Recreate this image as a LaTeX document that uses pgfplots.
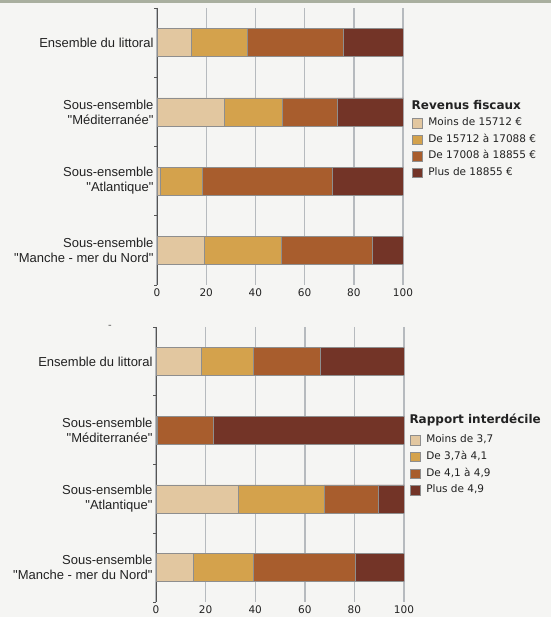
\documentclass[border=0pt]{standalone}
\usepackage{fontspec}
\setmainfont{DejaVu Sans}
\newfontfamily\labfont{Liberation Sans}
\usepackage{pgfplots}
\pgfplotsset{compat=1.18}
\definecolor{bg}{HTML}{F5F5F3}
\definecolor{topbar}{HTML}{A9AF9F}
\definecolor{cA}{HTML}{E2C7A0}
\definecolor{cB}{HTML}{D4A24C}
\definecolor{cC}{HTML}{A85D2D}
\definecolor{cD}{HTML}{733427}
\definecolor{gridc}{HTML}{B6BABE}
\definecolor{edge}{HTML}{8E8E8E}
\definecolor{axc}{HTML}{555555}
\definecolor{txt}{HTML}{222222}
\pgfplotsset{
 sq/.style={legend image code/.code={\draw[##1,draw=edge,line width=0.6pt] (0pt,-4.7pt) rectangle (9.5pt,4.7pt);}},
 mystyle/.style={
  scale only axis, xbar stacked, bar width=28pt,
  xmin=0, xmax=100, ymin=-0.5, ymax=3.5, y dir=reverse,
  xtick={0,20,40,60,80,100}, ytick={0,1,2,3},
  minor ytick={-0.5,0.5,1.5,2.5,3.5},
  yticklabels={{Ensemble du littoral},{Sous-ensemble\\"Méditerranée"},{Sous-ensemble\\"Atlantique"},{Sous-ensemble\\"Manche - mer du Nord"}},
  axis y line*=left, axis x line*=bottom,
  x axis line style={draw=none},
  y axis line style={draw=axc, line width=1pt},
  xmajorgrids, major grid style={draw=gridc, line width=1.4pt},
  major tick length=0pt, minor tick length=3pt, tick align=outside,
  xtick style={draw=none}, minor tick style={draw=axc, line width=0.8pt},
  yticklabel style={font=\labfont\fontsize{13}{15}\selectfont, align=right, text=txt},
  xticklabel style={font=\fontsize{10.5}{12}\selectfont, text=txt},
  /pgf/number format/assume math mode=true,
  every axis plot/.append style={draw=edge, line width=0.7pt},
  legend style={draw=none, fill=none, font=\fontsize{10.5}{12}\selectfont, text=txt, anchor=north west,
    inner sep=0pt, nodes={inner sep=1.5pt, text height=7.5pt, text depth=2.5pt}, row sep=3.6pt, column sep=4.5pt},
  legend cell align=left,
 }
}
\begin{document}
\begin{tikzpicture}[x=1pt,y=1pt]
\fill[bg] (0,0) rectangle (551,617);
\fill[topbar] (0,614) rectangle (551,617);
% top chart
\begin{axis}[mystyle, at={(157pt,332pt)}, anchor=south west, width=246pt, height=277pt,
  legend style={at={(1.0366,0.608)}}]
\addplot[fill=cA, sq] coordinates {(14.1,0) (27.5,1) (1.4,2) (19.4,3)};
\addplot[fill=cB, sq] coordinates {(22.8,0) (23.6,1) (17.2,2) (31.1,3)};
\addplot[fill=cC, sq] coordinates {(39.0,0) (22.2,1) (52.8,2) (36.9,3)};
\addplot[fill=cD, sq] coordinates {(24.1,0) (26.7,1) (28.6,2) (12.6,3)};
\legend{Moins de 15712 €, De 15712 à 17088 €, De 17008 à 18855 €, Plus de 18855 €}
\end{axis}
\node[anchor=base west, inner sep=0pt, font=\bfseries\fontsize{12}{14}\selectfont, text=txt] at (411.5,507.0) {Revenus fiscaux};
% bottom chart
\begin{axis}[mystyle, at={(156pt,15pt)}, anchor=south west, width=248pt, height=275pt,
  legend style={at={(1.024,0.612)}}]
\addplot[fill=cA, sq] coordinates {(18.1,0) (0,1) (33.4,2) (15.1,3)};
\addplot[fill=cB, sq] coordinates {(21.2,0) (0.6,1) (34.4,2) (24.2,3)};
\addplot[fill=cC, sq] coordinates {(26.9,0) (22.6,1) (21.7,2) (41.1,3)};
\addplot[fill=cD, sq] coordinates {(33.8,0) (76.8,1) (10.5,2) (19.6,3)};
\legend{Moins de 3{,}7, De 3{,}7à 4{,}1, De 4{,}1 à 4{,}9, Plus de 4{,}9}
\end{axis}
\node[anchor=base west, inner sep=0pt, font=\bfseries\fontsize{12}{14}\selectfont, text=txt] at (409.3,193.4) {Rapport interdécile};
\node[inner sep=0pt, font=\fontsize{10}{11}\selectfont, text=axc] at (110,290) {-};
\end{tikzpicture}
\end{document}
